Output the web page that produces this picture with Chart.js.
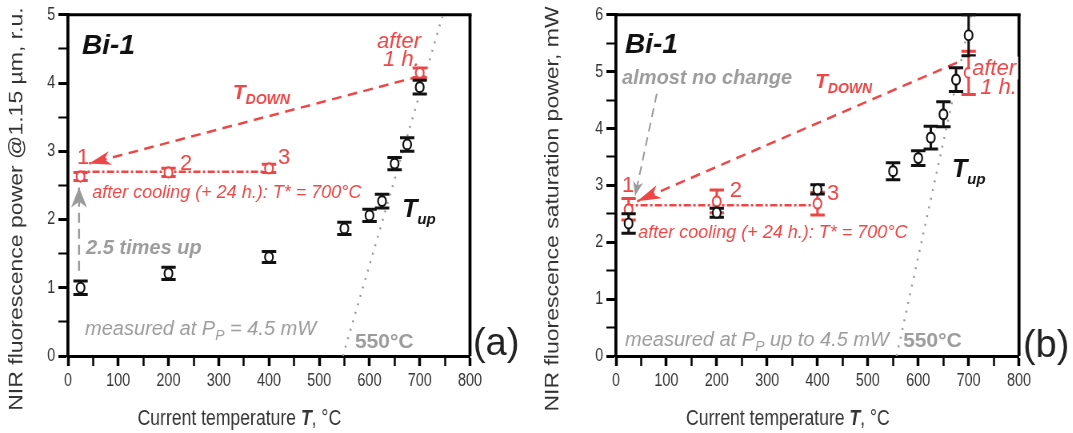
<!DOCTYPE html>
<html>
<head>
<meta charset="utf-8">
<script src="https://cdn.jsdelivr.net/npm/chart.js@4.4.1/dist/chart.umd.min.js"></script>
<style>
  body { margin: 0; background: #fff; }
  #wrap { position: relative; width: 1073px; height: 433px; overflow: hidden; }
  .panel { position: absolute; top: 0; }
  /* the original figure was squeezed horizontally */
  .panel canvas { transform: scaleX(0.8); transform-origin: 0 0; }
</style>
</head>
<body>
<div id="wrap">
  <div class="panel" style="left:0"><canvas id="chartA" width="670" height="433"></canvas></div>
  <div class="panel" style="left:536px"><canvas id="chartB" width="671" height="433"></canvas></div>
</div>
<script>
const SQ = 0.8;
const FONT = "'Liberation Sans', Arial, sans-serif";
const RED = '#ec4646';
const GREY = '#9c9c9c';
const INK = '#111';

// ---- panel (a): NIR fluorescence power, r.u.
const tempUpA = [25, 200, 400, 550, 600, 625, 650, 675, 700];
const powerUpA = [1.0, 1.21, 1.45, 1.87, 2.06, 2.27, 2.82, 3.1, 3.94];
const powerUpErrA = [0.1, 0.09, 0.08, 0.09, 0.09, 0.1, 0.09, 0.1, 0.1];
const tempDownA = [25, 200, 400, 700];
const powerDownA = [2.63, 2.69, 2.75, 4.15];
const powerDownErrA = [0.06, 0.06, 0.06, 0.07];
const coolTempA = [20, 400];
const coolLevelA = [2.7, 2.7];
const pathTempA = [700, 42];
const pathLevelA = [4.1, 2.82];
const guideTempA = [547, 746];
const guideLevelA = [0, 5];
const riseTempA = [22, 22];
const riseLevelA = [1.25, 2.47];

// ---- panel (b): NIR fluorescence saturation power, mW
const tempUpB = [25, 200, 400, 550, 600, 625, 650, 675, 700];
const satUpB = [2.33, 2.52, 2.93, 3.25, 3.48, 3.84, 4.25, 4.86, 5.64];
const satUpErrB = [0.17, 0.08, 0.08, 0.15, 0.13, 0.2, 0.22, 0.21, 0.36];
const tempDownB = [25, 200, 400, 700];
const satDownB = [2.58, 2.72, 2.68, 4.98];
const satDownErrB = [0.19, 0.2, 0.2, 0.38];
const coolTempB = [20, 400];
const coolLevelB = [2.65, 2.65];
const pathTempB = [677, 42];
const pathLevelB = [5.16, 2.72];
const guideTempB = [557, 705];
const guideLevelB = [0, 6];
const noChangeTempB = [81, 38];
const noChangeLevelB = [4.61, 2.82];

const X_TITLE = [['Current temperature ', '22px', '#333'], ['T', 'bold italic 22px', '#333'], [', °C', '22px', '#333']];

function pts(xs, ys) { return xs.map((x, i) => ({ x: x, y: ys[i] })); }

// draw a run of differently styled text pieces
function drawRich(ctx, x, y, parts, unsqueeze, bg, align) {
  ctx.save();
  ctx.translate(x, y);
  if (unsqueeze) ctx.scale(1 / SQ, 1);
  ctx.textBaseline = 'alphabetic';
  let w = 0;
  const ws = parts.map(p => { ctx.font = p[1] + ' ' + FONT; const m = ctx.measureText(p[0]).width; w += m; return m; });
  let cx = align === 'center' ? -w / 2 : 0;
  if (bg) { ctx.fillStyle = '#fff'; ctx.fillRect(cx - 2, -bg, w + 4, bg + 5); }
  parts.forEach((p, i) => {
    ctx.font = p[1] + ' ' + FONT;
    ctx.fillStyle = p[2];
    ctx.fillText(p[0], cx, p[3] || 0);
    cx += ws[i];
  });
  ctx.restore();
}

const frame = {
  id: 'frame',
  beforeDatasetsDraw(chart) {
    const a = chart.chartArea, ctx = chart.ctx;
    ctx.save();
    ctx.strokeStyle = '#000';
    ctx.lineWidth = 3;
    ctx.beginPath(); ctx.moveTo(a.left, a.top); ctx.lineTo(a.right + 2, a.top); ctx.stroke();
    ctx.lineWidth = 3 / SQ;
    ctx.beginPath(); ctx.moveTo(a.right, a.top); ctx.lineTo(a.right, a.bottom); ctx.stroke();
    ctx.restore();
  }
};

const errorBars = {
  id: 'errorBars',
  beforeDatasetDraw(chart, args) {
    const ds = chart.data.datasets[args.index];
    if (!ds.errors) return;
    const ctx = chart.ctx, sy = chart.scales.y;
    ctx.save();
    ctx.strokeStyle = ds.borderColor;
    args.meta.data.forEach((pt, i) => {
      const v = ds.data[i].y, e = ds.errors[i];
      const top = sy.getPixelForValue(v + e), bot = sy.getPixelForValue(v - e);
      ctx.lineWidth = 3;
      ctx.beginPath(); ctx.moveTo(pt.x, top); ctx.lineTo(pt.x, bot); ctx.stroke();
      ctx.lineWidth = 3;
      ctx.beginPath();
      ctx.moveTo(pt.x - 9, top); ctx.lineTo(pt.x + 9, top);
      ctx.moveTo(pt.x - 9, bot); ctx.lineTo(pt.x + 9, bot);
      ctx.stroke();
    });
    ctx.restore();
  }
};

const arrowHeads = {
  id: 'arrowHeads',
  afterDatasetDraw(chart, args) {
    const ds = chart.data.datasets[args.index];
    if (!ds.arrow) return;
    const p = args.meta.data, n = p.length;
    const tip = p[n - 1], from = p[n - 2];
    const ang = Math.atan2(tip.y - from.y, (tip.x - from.x) * SQ);
    const ctx = chart.ctx;
    ctx.save();
    ctx.translate(tip.x, tip.y);
    ctx.scale(1 / SQ, 1);
    ctx.rotate(ang);
    ctx.fillStyle = ds.borderColor;
    ctx.beginPath();
    ctx.moveTo(0, 0);
    ctx.lineTo(-ds.arrow[0], -ds.arrow[1]);
    ctx.lineTo(-ds.arrow[0] * 0.72, 0);
    ctx.lineTo(-ds.arrow[0], ds.arrow[1]);
    ctx.closePath();
    ctx.fill();
    ctx.restore();
  }
};

function notesPlugin(notes) {
  return {
    id: 'notes',
    afterDatasetsDraw(chart) {
      const sx = chart.scales.x, sy = chart.scales.y;
      notes.forEach(n => drawRich(chart.ctx, sx.getPixelForValue(n.at[0]), sy.getPixelForValue(n.at[1]), n.parts, true, n.bg));
    }
  };
}

function titlesPlugin(yTitle) {
  return {
    id: 'titles',
    afterDraw(chart) {
      const a = chart.chartArea, ctx = chart.ctx;
      drawRich(ctx, (a.left + a.right) / 2 - 37, 425, X_TITLE, false, 0, 'center');
      ctx.save();
      ctx.translate(27.5, 209);
      ctx.rotate(-Math.PI / 2);
      drawRich(ctx, 0, 0, [[yTitle, '23px', '#333']], false, 0, 'center');
      ctx.restore();
    }
  };
}

function markerSet(label, xs, ys, errs, color) {
  return { label: label, data: pts(xs, ys), errors: errs, borderColor: color, backgroundColor: '#fff',
           pointRadius: 5, pointBorderWidth: 2.2, showLine: false, order: 0 };
}
function lineSet(label, xs, ys, color, width, dash, arrow) {
  return { label: label, data: pts(xs, ys), borderColor: color, borderWidth: width, borderDash: dash,
           showLine: true, pointRadius: 0, arrow: arrow, order: 5 };
}

function makeChart(id, yMax, yWidth, padRight, yTitle, datasets, notes) {
  return new Chart(document.getElementById(id), {
    type: 'scatter',
    data: { datasets: datasets },
    options: {
      responsive: false,
      animation: false,
      layout: { padding: { left: 0, right: padRight, top: 14, bottom: 0 } },
      plugins: { legend: { display: false }, tooltip: { enabled: false } },
      scales: {
        x: {
          type: 'linear', min: 0, max: 800,
          afterFit: s => { s.height = 77; },
          ticks: { stepSize: 50, autoSkip: false, maxRotation: 0, padding: 4, color: '#333',
                   font: { family: FONT, size: 18 },
                   callback: v => v % 100 === 0 ? String(v) : '' },
          grid: { drawOnChartArea: false, drawTicks: true, tickLength: 10, tickColor: '#000',
                  tickWidth: c => (c.tick && c.tick.value % 100 === 0) ? 3.5 : 2.5 },
          border: { display: true, color: '#000', width: 3 }
        },
        y: {
          min: 0, max: yMax,
          afterFit: s => { s.width = yWidth; },
          ticks: { stepSize: 0.5, autoSkip: false, padding: 4, color: '#333',
                   font: { family: FONT, size: 18 },
                   callback: v => Number.isInteger(v) ? String(v) : '' },
          grid: { drawOnChartArea: false, drawTicks: true, tickLength: 12, tickColor: '#000',
                  tickWidth: c => (c.tick && Number.isInteger(c.tick.value)) ? 3 : 2 },
          border: { display: true, color: '#000', width: 3 / SQ }
        }
      }
    },
    plugins: [frame, errorBars, arrowHeads, notesPlugin(notes), titlesPlugin(yTitle)]
  });
}

makeChart('chartA', 5, 85, 82.5, 'NIR fluorescence power @1.15 µm, r.u.', [
  markerSet('T up', tempUpA, powerUpA, powerUpErrA, INK),
  markerSet('T down', tempDownA, powerDownA, powerDownErrA, RED),
  lineSet('after cooling', coolTempA, coolLevelA, RED, 2.5, [9, 3, 3, 3]),
  lineSet('T down path', pathTempA, pathLevelA, RED, 2.5, [12, 8], [22, 7]),
  lineSet('550 guide', guideTempA, guideLevelA, GREY, 2.5, [2, 7]),
  lineSet('2.5 times up', riseTempA, riseLevelA, '#9a9a9a', 2.5, [10, 6], [20, 8])
], [
  { at: [28, 4.43], parts: [['Bi-1', 'bold italic 28px', INK]] },
  { at: [328, 3.76], parts: [['T', 'bold italic 21px', RED], ['DOWN', 'bold italic 14px', RED, 5]] },
  { at: [615, 4.52], parts: [['after', 'italic 22px', RED]] },
  { at: [627, 4.25], parts: [['1 h.', 'italic 22px', RED]] },
  { at: [18, 2.82], parts: [['1', '22px', RED]] },
  { at: [223, 2.72], parts: [['2', '22px', RED]] },
  { at: [418, 2.82], parts: [['3', '22px', RED]] },
  { at: [48, 2.32], parts: [['after cooling (+ 24 h.): T* = 700°C', 'italic 18px', RED]] },
  { at: [36, 1.5], parts: [['2.5 times up', 'bold italic 20px', GREY]] },
  { at: [665, 2.03], parts: [['T', 'bold italic 25px', INK], ['up', 'bold italic 15px', INK, 7]] },
  { at: [34, 0.31], parts: [['measured at P', 'italic 20px', GREY], ['P', 'italic 14px', GREY, 5], [' = 4.5 mW', 'italic 20px', GREY]] },
  { at: [571, 0.12], parts: [['550°C', 'bold 21px', GREY]] },
  { at: [806, 0.015], parts: [['(a)', '38px', '#222']] }
]);

makeChart('chartB', 6, 100, 67.25, 'NIR fluorescence saturation power, mW', [
  markerSet('T up', tempUpB, satUpB, satUpErrB, INK),
  markerSet('T down', tempDownB, satDownB, satDownErrB, RED),
  lineSet('after cooling', coolTempB, coolLevelB, RED, 2.5, [9, 3, 3, 3]),
  lineSet('T down path', pathTempB, pathLevelB, RED, 2.5, [12, 8], [24, 7]),
  lineSet('550 guide', guideTempB, guideLevelB, GREY, 2.5, [2, 7]),
  lineSet('almost no change', noChangeTempB, noChangeLevelB, '#9a9a9a', 2, [9, 6], [14, 5])
], [
  { at: [18, 5.33], parts: [['Bi-1', 'bold italic 28px', INK]] },
  { at: [12, 4.79], parts: [['almost no change', 'bold italic 20px', GREY]] },
  { at: [395, 4.72], parts: [['T', 'bold italic 21px', RED], ['DOWN', 'bold italic 14px', RED, 5]] },
  { at: [707, 4.95], parts: [['after', 'italic 22px', RED]], bg: 18 },
  { at: [723, 4.61], parts: [['1 h.', 'italic 22px', RED]] },
  { at: [12, 2.88], parts: [['1', '22px', RED]] },
  { at: [226, 2.79], parts: [['2', '22px', RED]] },
  { at: [419, 2.74], parts: [['3', '22px', RED]] },
  { at: [44, 2.07], parts: [['after cooling (+ 24 h.): T* = 700°C', 'italic 18px', RED]] },
  { at: [667, 3.14], parts: [['T', 'bold italic 25px', INK], ['up', 'bold italic 15px', INK, 7]] },
  { at: [18, 0.18], parts: [['measured at P', 'italic 20px', GREY], ['P', 'italic 14px', GREY, 5], [' up to 4.5 mW', 'italic 20px', GREY]] },
  { at: [570, 0.16], parts: [['550°C', 'bold 21px', GREY]] },
  { at: [808, -0.02], parts: [['(b)', '38px', '#222']] }
]);
</script>
</body>
</html>
